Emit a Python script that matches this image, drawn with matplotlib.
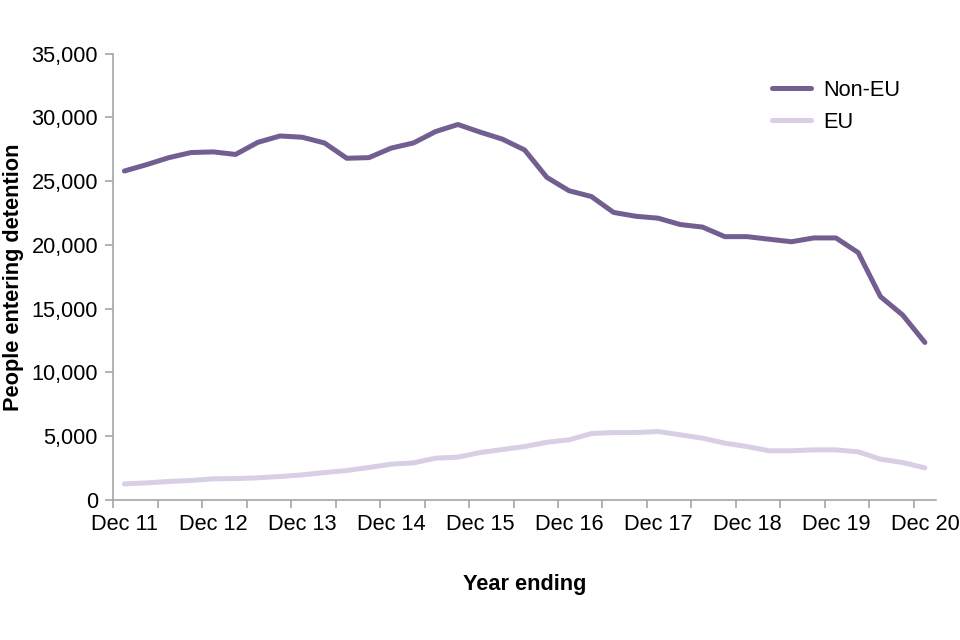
import numpy as np
import matplotlib.pyplot as plt
from matplotlib.ticker import FuncFormatter, FixedLocator

plt.rcParams['font.family'] = ['Liberation Sans', 'DejaVu Sans']

# Quarterly, year ending Dec 2011 to Dec 2020
non_eu = [25800, 26300, 26850, 27250, 27300, 27100, 28050, 28550, 28450, 28000,
          26800, 26850, 27600, 28000, 28900, 29450, 28850, 28300, 27450, 25300,
          24250, 23800, 22550, 22250, 22100, 21600, 21400, 20650, 20650, 20450,
          20250, 20550, 20550, 19400, 15950, 14500, 12350]
eu = [1250, 1330, 1440, 1520, 1650, 1670, 1730, 1830, 1960, 2140,
      2300, 2540, 2800, 2900, 3270, 3350, 3710, 3950, 4180, 4520,
      4710, 5200, 5280, 5280, 5360, 5100, 4840, 4450, 4180, 3850,
      3850, 3920, 3920, 3770, 3190, 2930, 2510]
year_labels = ['Dec 11', 'Dec 12', 'Dec 13', 'Dec 14', 'Dec 15',
               'Dec 16', 'Dec 17', 'Dec 18', 'Dec 19', 'Dec 20']

x = np.arange(len(non_eu))
fs = 15.7

fig = plt.figure(figsize=(9.6, 6.4), dpi=100)
ax = fig.add_axes([0.118, 0.219, 0.857, 0.697])

ax.plot(x, non_eu, color='#735e92', lw=3.6, label='Non-EU', solid_capstyle='round')
ax.plot(x, eu, color='#d8cfe5', lw=3.6, label='EU', solid_capstyle='round')

ax.set_xlim(-0.5, len(x) - 0.5)
ax.set_ylim(0, 35000)
ax.set_yticks(np.arange(0, 35001, 5000))
ax.yaxis.set_major_formatter(FuncFormatter(lambda v, p: f'{int(v):,}'))

# tick marks between categories every two quarters, labels every year
ax.xaxis.set_major_locator(FixedLocator(np.arange(-0.5, len(x) - 1, 2)))
ax.xaxis.set_major_formatter(FuncFormatter(lambda v, p: ''))
ax.xaxis.set_minor_locator(FixedLocator(np.arange(0, len(x), 4)))
ax.set_xticklabels(year_labels, minor=True)
ax.tick_params(axis='x', which='minor', length=0, pad=10, labelsize=fs)
ax.tick_params(axis='x', which='major', length=6, color='#a6a6a6', width=1.2)
ax.tick_params(axis='y', length=6, color='#a6a6a6', width=1.2, labelsize=fs, pad=5)

for s in ['top', 'right']:
    ax.spines[s].set_visible(False)
for s in ['left', 'bottom']:
    ax.spines[s].set_color('#a6a6a6')
    ax.spines[s].set_linewidth(1.2)

ax.set_ylabel('People entering detention', fontsize=fs, fontweight='bold', labelpad=5)
ax.set_xlabel('Year ending', fontsize=fs, fontweight='bold', labelpad=28)

ax.legend(loc='upper right', bbox_to_anchor=(0.98, 0.985), frameon=False,
          fontsize=fs, handlelength=1.8, handletextpad=0.55, labelspacing=0.5)

fig.savefig('out.png', dpi=100)
